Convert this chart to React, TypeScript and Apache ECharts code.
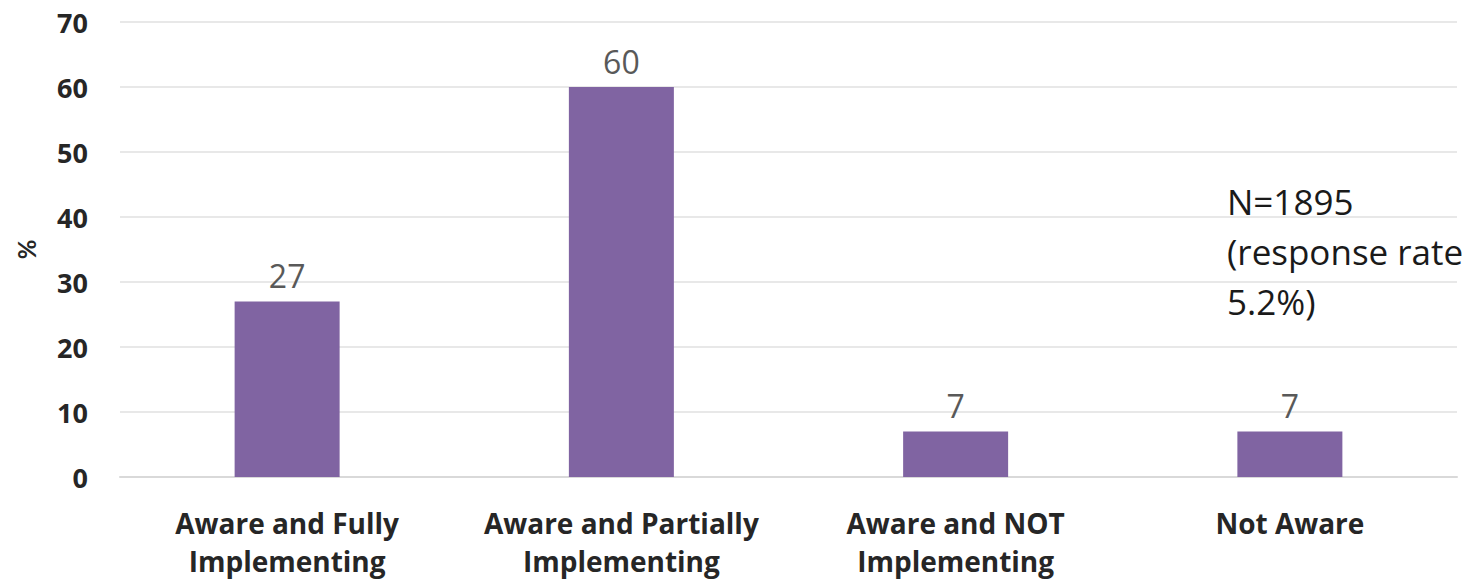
import React, { useEffect, useRef } from "react";
import * as echarts from "echarts";

const categories = [
  "Aware and Fully\nImplementing",
  "Aware and Partially\nImplementing",
  "Aware and NOT\nImplementing",
  "Not Aware",
];
const values = [27, 60, 7, 7];
const annotationLines = ["N=1895", "(response rate", "5.2%)"];

const FONT = "'Open Sans', Lato, sans-serif";
const LATO = "Lato, 'Open Sans', sans-serif";

export default function App() {
  const ref = useRef<HTMLDivElement>(null);
  useEffect(() => {
    if (!ref.current) return;
    const chart = echarts.init(ref.current, null, { renderer: "svg" });
    chart.setOption({
      animation: false,
      backgroundColor: "#ffffff",
      grid: { left: 120, right: 21, top: 22, bottom: 103, containLabel: false },
      xAxis: {
        type: "category",
        data: categories,
        axisLine: { show: true, lineStyle: { color: "#d9d9d9", width: 2 } },
        axisTick: { show: false },
        axisLabel: {
          interval: 0,
          margin: 27,
          color: "#262626",
          fontFamily: FONT,
          fontWeight: "bold",
          fontSize: 28,
          lineHeight: 38,
        },
      },
      yAxis: {
        type: "value",
        min: 0,
        max: 70,
        interval: 10,
        name: "%",
        nameLocation: "middle",
        nameGap: 82,
        nameRotate: 90,
        nameTextStyle: { color: "#262626", fontFamily: LATO, fontWeight: "bold", fontSize: 24 },
        axisLine: { show: false },
        axisTick: { show: false },
        splitLine: { lineStyle: { color: "#e8e8e8", width: 2 } },
        axisLabel: {
          margin: 32,
          color: "#262626",
          fontFamily: FONT,
          fontWeight: "bold",
          fontSize: 27,
        },
      },
      series: [
        {
          type: "bar",
          data: values,
          barWidth: 105,
          itemStyle: { color: "#8064a2" },
          label: {
            show: true,
            position: "top",
            distance: 10,
            color: "#595959",
            fontFamily: FONT,
            fontSize: 32,
          },
        },
      ],
      graphic: [
        {
          type: "text",
          left: 1227,
          top: 176,
          style: {
            text: annotationLines.join("\n"),
            fill: "#1a1a1a",
            font: `35px ${FONT}`,
            lineHeight: 50,
          },
        },
      ],
    });
    return () => chart.dispose();
  }, []);
  return <div ref={ref} style={{ width: 1478, height: 580, position: "absolute", left: 0, top: 0 }} />;
}
